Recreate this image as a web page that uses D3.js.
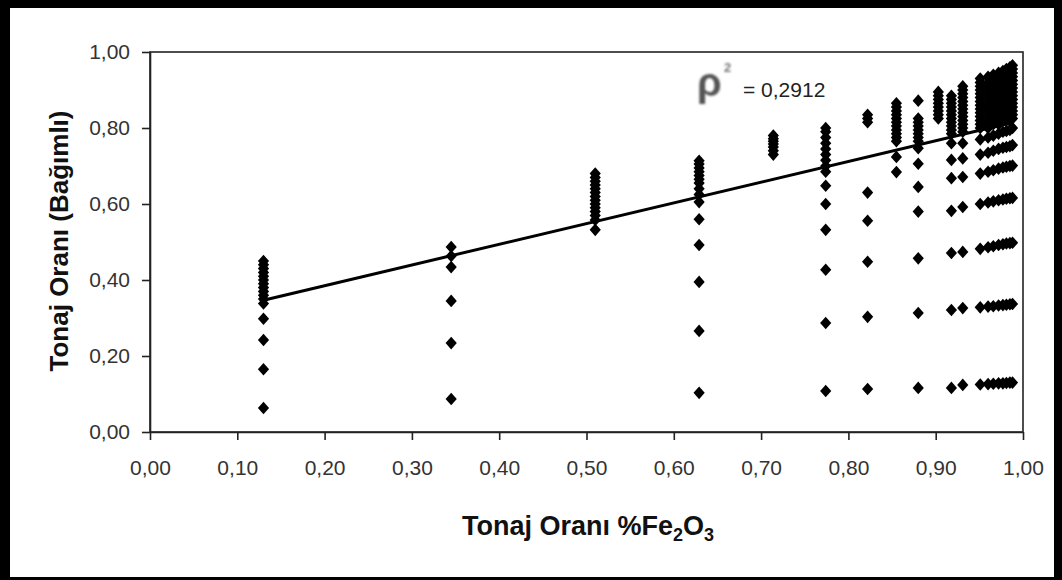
<!DOCTYPE html>
<html>
<head>
<meta charset="utf-8">
<script src="https://cdn.jsdelivr.net/npm/d3@7"></script>
<style>
  body { margin: 0; background: #fff; }
  svg { display: block; }
</style>
</head>
<body>
<script>
// x position of each column of points (Tonaj Oranı %Fe2O3)
var colX = [0.13, 0.345, 0.51, 0.629, 0.714, 0.774, 0.822, 0.855, 0.88, 0.903, 0.918,
            0.931, 0.951, 0.96, 0.966, 0.972, 0.977, 0.981, 0.985, 0.988];

// y values in each column (Tonaj Oranı, Bağımlı)
var colY = [
  [0.063, 0.165, 0.242, 0.298, 0.338, 0.35, 0.36, 0.37, 0.38, 0.39, 0.40, 0.41, 0.42, 0.43, 0.44, 0.45],
  [0.087, 0.234, 0.345, 0.434, 0.463, 0.487],
  [0.532, 0.558, 0.57, 0.58, 0.59, 0.60, 0.61, 0.62, 0.63, 0.64, 0.65, 0.66, 0.67, 0.68],
  [0.103, 0.266, 0.395, 0.492, 0.56, 0.605, 0.625, 0.64, 0.655, 0.665, 0.675, 0.685, 0.695, 0.705, 0.714],
  [0.73, 0.74, 0.75, 0.758, 0.765, 0.772, 0.78],
  [0.108, 0.287, 0.427, 0.532, 0.60, 0.648, 0.685, 0.70, 0.715, 0.73, 0.745, 0.76, 0.775, 0.79, 0.80],
  [0.113, 0.303, 0.448, 0.556, 0.63, 0.815, 0.825, 0.835],
  [0.684, 0.724, 0.765, 0.775, 0.785, 0.795, 0.805, 0.815, 0.825, 0.835, 0.845, 0.855, 0.865],
  [0.116, 0.313, 0.457, 0.58, 0.645, 0.706, 0.747, 0.765, 0.775, 0.785, 0.795, 0.805, 0.815, 0.825, 0.872],
  [0.825, 0.835, 0.845, 0.855, 0.865, 0.875, 0.885, 0.895],
  [0.116, 0.321, 0.471, 0.582, 0.668, 0.716, 0.76, 0.785, 0.795, 0.805, 0.815, 0.825, 0.835, 0.845, 0.855, 0.865, 0.875, 0.885],
  [0.124, 0.326, 0.474, 0.592, 0.671, 0.72, 0.76, 0.79, 0.80, 0.81, 0.82, 0.83, 0.84, 0.85, 0.86, 0.87, 0.88, 0.89, 0.90, 0.91],
  [0.125, 0.328, 0.482, 0.60, 0.68, 0.73, 0.77, 0.80, 0.81, 0.82, 0.83, 0.84, 0.85, 0.86, 0.87, 0.88, 0.89, 0.90, 0.91, 0.92, 0.93],
  [0.126, 0.33, 0.486, 0.604, 0.685, 0.735, 0.775, 0.80, 0.81, 0.82, 0.83, 0.84, 0.85, 0.86, 0.87, 0.88, 0.89, 0.90, 0.91, 0.92, 0.935],
  [0.127, 0.331, 0.489, 0.607, 0.689, 0.74, 0.78, 0.81, 0.82, 0.83, 0.84, 0.85, 0.86, 0.87, 0.88, 0.89, 0.90, 0.91, 0.92, 0.93, 0.94],
  [0.128, 0.333, 0.492, 0.61, 0.693, 0.745, 0.785, 0.81, 0.82, 0.83, 0.84, 0.85, 0.86, 0.87, 0.88, 0.89, 0.90, 0.91, 0.92, 0.93, 0.945],
  [0.128, 0.334, 0.494, 0.612, 0.696, 0.748, 0.79, 0.82, 0.83, 0.84, 0.85, 0.86, 0.87, 0.88, 0.89, 0.90, 0.91, 0.92, 0.93, 0.94, 0.95],
  [0.129, 0.335, 0.496, 0.614, 0.698, 0.75, 0.792, 0.82, 0.83, 0.84, 0.85, 0.86, 0.87, 0.88, 0.89, 0.90, 0.91, 0.92, 0.93, 0.94, 0.955],
  [0.13, 0.336, 0.497, 0.615, 0.70, 0.752, 0.795, 0.825, 0.835, 0.845, 0.855, 0.865, 0.875, 0.885, 0.895, 0.905, 0.915, 0.925, 0.935, 0.945, 0.96],
  [0.13, 0.337, 0.498, 0.616, 0.701, 0.755, 0.80, 0.825, 0.835, 0.845, 0.855, 0.865, 0.875, 0.885, 0.895, 0.905, 0.915, 0.925, 0.935, 0.945, 0.955, 0.965]
];

// linear trend line
var trendSlope = 0.545;
var trendIntercept = 0.276;
var rSquaredText = "= 0,2912";

var xTicks = [0, 0.1, 0.2, 0.3, 0.4, 0.5, 0.6, 0.7, 0.8, 0.9, 1.0];
var yTicks = [0, 0.2, 0.4, 0.6, 0.8, 1.0];

var width = 1062, height = 580;
var plotLeft = 150, plotRight = 1023, plotTop = 52, plotBottom = 432;

var svg = d3.select("body").append("svg")
    .attr("width", width)
    .attr("height", height);

// outer black frame
svg.append("rect").attr("width", width).attr("height", height).attr("fill", "#000");
svg.append("rect").attr("x", 10).attr("y", 8)
    .attr("width", width - 18).attr("height", height - 11)
    .attr("fill", "#fff");

var x = d3.scaleLinear().domain([0, 1]).range([plotLeft, plotRight]);
var y = d3.scaleLinear().domain([0, 1]).range([plotBottom, plotTop]);

var fmt = function(d) { return d3.format(".2f")(d).replace(".", ","); };

// plot frame
svg.append("rect")
    .attr("x", plotLeft).attr("y", plotTop)
    .attr("width", plotRight - plotLeft).attr("height", plotBottom - plotTop)
    .attr("fill", "none").attr("stroke", "#222").attr("stroke-width", 1.6);

var xAxis = svg.append("g")
    .attr("transform", "translate(0," + plotBottom + ")")
    .call(d3.axisBottom(x).tickValues(xTicks).tickFormat(fmt).tickSize(8).tickSizeOuter(0).tickPadding(20));
var yAxis = svg.append("g")
    .attr("transform", "translate(" + plotLeft + ",0)")
    .call(d3.axisLeft(y).tickValues(yTicks).tickFormat(fmt).tickSize(8).tickSizeOuter(0).tickPadding(12));

[xAxis, yAxis].forEach(function(a) {
  a.select(".domain").attr("stroke", "#222").attr("stroke-width", 1.6);
  a.selectAll(".tick line").attr("stroke", "#222").attr("stroke-width", 1.6);
  a.selectAll(".tick text")
      .attr("fill", "#333")
      .style("font-family", "'Liberation Sans', Arial, sans-serif")
      .style("font-size", "21px");
});

// points
var points = [];
colX.forEach(function(cx, i) {
  colY[i].forEach(function(v) { points.push({ x: cx, y: v }); });
});

svg.append("g")
    .selectAll("path")
    .data(points)
    .enter().append("path")
    .attr("d", "M0,-6.3L5.6,0L0,6.3L-5.6,0Z")
    .attr("transform", function(d) { return "translate(" + x(d.x) + "," + y(d.y) + ")"; })
    .attr("fill", "#000");

// trend line
var xMin = d3.min(colX), xMax = d3.max(colX);
svg.append("line")
    .attr("x1", x(xMin)).attr("y1", y(trendIntercept + trendSlope * xMin))
    .attr("x2", x(xMax)).attr("y2", y(trendIntercept + trendSlope * xMax))
    .attr("stroke", "#000").attr("stroke-width", 3);

// r squared label
var defs = svg.append("defs");
defs.append("filter").attr("id", "soft")
    .append("feGaussianBlur").attr("stdDeviation", 1.1);

svg.append("text")
    .attr("x", 697).attr("y", 96)
    .attr("fill", "#555")
    .attr("filter", "url(#soft)")
    .style("font-family", "'Liberation Sans', Arial, sans-serif")
    .style("font-size", "40px")
    .style("font-weight", "bold")
    .text("ρ");
svg.append("text")
    .attr("x", 724).attr("y", 72)
    .attr("fill", "#777")
    .attr("filter", "url(#soft)")
    .style("font-family", "'Liberation Sans', Arial, sans-serif")
    .style("font-size", "13px")
    .style("font-weight", "bold")
    .text("2");
svg.append("text")
    .attr("x", 743).attr("y", 97)
    .attr("fill", "#222")
    .style("font-family", "'Liberation Sans', Arial, sans-serif")
    .style("font-size", "21px")
    .text(rSquaredText);

// axis titles
var xt = svg.append("text")
    .attr("x", 588).attr("y", 535)
    .attr("text-anchor", "middle")
    .attr("fill", "#111")
    .style("font-family", "'Liberation Sans', Arial, sans-serif")
    .style("font-size", "27px")
    .style("font-weight", "bold");
xt.append("tspan").text("Tonaj Oranı %Fe");
xt.append("tspan").attr("dy", 6).style("font-size", "18px").text("2");
xt.append("tspan").attr("dy", -6).text("O");
xt.append("tspan").attr("dy", 6).style("font-size", "18px").text("3");

svg.append("text")
    .attr("transform", "translate(68,241) rotate(-90)")
    .attr("text-anchor", "middle")
    .attr("fill", "#111")
    .style("font-family", "'Liberation Sans', Arial, sans-serif")
    .style("font-size", "26px")
    .style("font-weight", "bold")
    .text("Tonaj Oranı (Bağımlı)");
</script>
</body>
</html>
